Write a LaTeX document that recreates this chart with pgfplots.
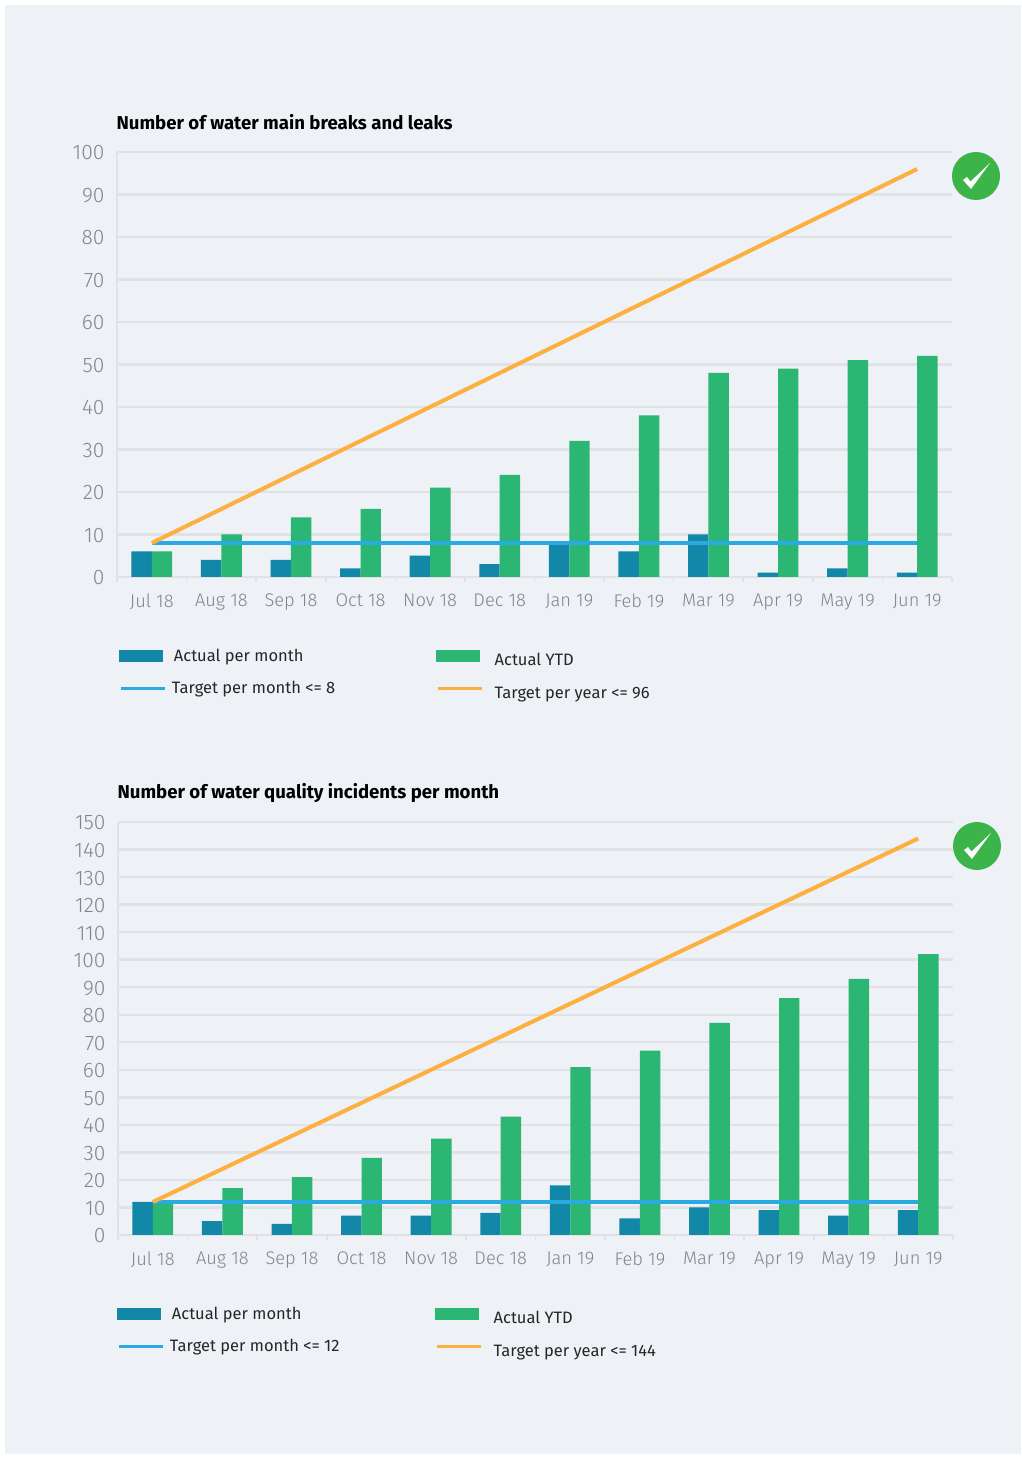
\documentclass[border=0pt]{standalone}
\usepackage{pgfplots}
\pgfplotsset{compat=1.18}
\usepackage{fontspec}
\setmainfont{Fira Sans}
\newfontfamily\lightfont{Fira Sans Light}
\definecolor{panel}{HTML}{EEF1F6}
\definecolor{gridc}{HTML}{E1E2E6}
\definecolor{teal}{HTML}{1287A8}
\definecolor{ygreen}{HTML}{2BB673}
\definecolor{tblue}{HTML}{29ABE2}
\definecolor{torange}{HTML}{FBB040}
\definecolor{tickc}{HTML}{7F868C}
\definecolor{okgreen}{HTML}{3BB54A}
\pgfplotsset{
  waterchart/.style={
    scale only axis, width=835pt,
    xmin=-0.5, xmax=11.5, ymin=0,
    axis x line=bottom, axis y line=left,
    axis line style={gridc, line width=2.4pt, -},
    ymajorgrids, grid style={gridc, line width=2.4pt},
    xtick={0,...,11},
    xticklabels={Jul 18,Aug 18,Sep 18,Oct 18,Nov 18,Dec 18,Jan 19,Feb 19,Mar 19,Apr 19,May 19,Jun 19},
    minor xtick={-0.5,0.5,...,11.5},
    major tick length=0pt, minor tick length=5pt,
    tick style={gridc, line width=1.6pt},
    xtick align=outside, ytick align=outside,
    tick label style={text=tickc},
    /pgf/number format/assume math mode=true,
    xticklabel style={font=\fontsize{18.3}{20}\selectfont\lightfont, yshift=-13pt, xshift=0pt},
    yticklabel style={font=\fontsize{21}{22}\selectfont\lightfont, xshift=-9pt, yshift=-1pt},
    title style={at={(0,1)}, anchor=south west, font=\fontsize{18.6}{20}\selectfont\bfseries, text=black, xshift=-4pt},
    legend columns=2,
    legend cell align=left,
    legend style={draw=none, fill=none, anchor=north west,
      font=\fontsize{16.5}{18}\selectfont, text=black!85,
      /tikz/every even column/.append style={column sep=0pt},
      /tikz/row sep=14.5pt},
  },
  barkey/.style={legend image code/.code={\fill[#1] (0pt,-6pt) rectangle (44pt,6pt);}},
  linekey/.style={legend image code/.code={\draw[#1,line width=3.5pt] (2pt,0pt) -- (46pt,0pt);}},
}
\newcommand{\lowered}[1]{\raisebox{-10.5pt}[0pt][0pt]{#1}}
\newcommand{\tickmark}[2]{%
  \fill[okgreen] (#1,#2) circle (24pt);
  \fill[white] ([shift={(-13pt,-4pt)}]#1,#2) -- ([shift={(-9pt,-1pt)}]#1,#2) -- ([shift={(-5.5pt,-5.5pt)}]#1,#2)
    -- ([shift={(14pt,13pt)}]#1,#2) -- ([shift={(-5pt,-13pt)}]#1,#2) -- cycle;}
\begin{document}
\begin{tikzpicture}[x=1pt,y=1pt]
\useasboundingbox (0,0) rectangle (1021,1457);
\fill[white] (0,0) rectangle (1021,1457);
\fill[panel] (5,3) rectangle (1021,1452);
\begin{axis}[waterchart, at={(117pt,880pt)}, anchor=south west, height=425pt,
  ymax=100, ytick={0,10,...,100},
  title={Number of water main breaks and leaks},
  title style={yshift=13pt},
  legend style={at={(-1pt,-68pt)}},
]
\addplot[ybar, bar width=20.4pt, bar shift=-10.2pt, fill=teal, draw=none, barkey=teal] coordinates {(0,6)(1,4)(2,4)(3,2)(4,5)(5,3)(6,8)(7,6)(8,10)(9,1)(10,2)(11,1)};
\addplot[ybar, bar width=20.4pt, bar shift=10.2pt, fill=ygreen, draw=none, barkey=ygreen] coordinates {(0,6)(1,10)(2,14)(3,16)(4,21)(5,24)(6,32)(7,38)(8,48)(9,49)(10,51)(11,52)};
\addplot[tblue, line width=4pt, linekey=tblue] coordinates {(0,8)(1,8)(2,8)(3,8)(4,8)(5,8)(6,8)(7,8)(8,8)(9,8)(10,8)(11,8)};
\addplot[torange, line width=4pt, linekey=torange] coordinates {(0,8)(1,16)(2,24)(3,32)(4,40)(5,48)(6,56)(7,64)(8,72)(9,80)(10,88)(11,96)};
\legend{\makebox[265pt][l]{\hspace{5pt}Actual per month},\lowered{\hspace{9pt}Actual YTD},{\makebox[265pt][l]{\hspace{3pt}Target per month <= 8}},\lowered{\hspace{9pt}Target per year <= 96}}
\end{axis}
\tickmark{976}{1281}
\begin{axis}[waterchart, at={(118pt,222pt)}, anchor=south west, height=413pt,
  ymax=150, ytick={0,10,...,150},
  title={Number of water quality incidents per month},
  title style={yshift=10pt},
  legend style={at={(-4pt,-68pt)}},
]
\addplot[ybar, bar width=20.4pt, bar shift=-10.2pt, fill=teal, draw=none, barkey=teal] coordinates {(0,12)(1,5)(2,4)(3,7)(4,7)(5,8)(6,18)(7,6)(8,10)(9,9)(10,7)(11,9)};
\addplot[ybar, bar width=20.4pt, bar shift=10.2pt, fill=ygreen, draw=none, barkey=ygreen] coordinates {(0,12)(1,17)(2,21)(3,28)(4,35)(5,43)(6,61)(7,67)(8,77)(9,86)(10,93)(11,102)};
\addplot[tblue, line width=4pt, linekey=tblue] coordinates {(0,12)(1,12)(2,12)(3,12)(4,12)(5,12)(6,12)(7,12)(8,12)(9,12)(10,12)(11,12)};
\addplot[torange, line width=4pt, linekey=torange] coordinates {(0,12)(1,24)(2,36)(3,48)(4,60)(5,72)(6,84)(7,96)(8,108)(9,120)(10,132)(11,144)};
\legend{\makebox[266pt][l]{\hspace{5pt}Actual per month},\lowered{\hspace{9pt}Actual YTD},{\makebox[266pt][l]{\hspace{3pt}Target per month <= 12}},\lowered{\hspace{9pt}Target per year <= 144}}
\end{axis}
\tickmark{977}{611}
\end{tikzpicture}
\end{document}
